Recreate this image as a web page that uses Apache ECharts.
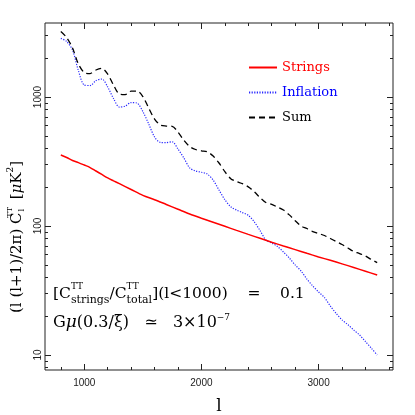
<!DOCTYPE html>
<html>
<head>
<meta charset="utf-8">
<script src="https://cdn.jsdelivr.net/npm/echarts@6/dist/echarts.min.js"></script>
<style>
  html, body { margin: 0; padding: 0; background: #fff; }
  #chart { width: 415px; height: 415px; }
</style>
</head>
<body>
<div id="chart"></div>
<script>
// multipole l, sampled every 50 for the oscillating curves
const ellFine = [800, 850, 900, 950, 1000, 1050, 1100, 1150, 1200, 1250, 1300, 1350, 1400, 1450,
  1500, 1550, 1600, 1650, 1700, 1750, 1800, 1850, 1900, 1950, 2000, 2050, 2100, 2150, 2200, 2250,
  2300, 2350, 2400, 2450, 2500, 2550, 2600, 2650, 2700, 2750, 2800, 2850, 2900, 2950, 3000, 3050,
  3100, 3150, 3200, 3250, 3300, 3350, 3400, 3450, 3500];
// inflation C_l (muK^2)
const inflation = [2851, 2693, 2314, 1604, 1239, 1228, 1342, 1379, 1196, 973, 836, 851, 906, 898,
  772, 618, 490, 445, 443, 450, 395, 337, 282, 267, 261, 253, 227, 190, 160, 141,
  133, 127, 121, 108, 92.3, 77.9, 73.8, 69.3, 62.9, 56.5, 49.9, 44.8, 38.8, 34.3, 30.8, 27.9,
  24.0, 21.0, 18.7, 17.2, 15.6, 14.3, 12.7, 11.3, 10];
// sum of strings + inflation
const sum = [3220, 2893, 2399, 1803, 1549, 1521, 1620, 1669, 1507, 1239, 1055, 1045, 1113, 1113,
  1009, 822, 675, 607, 596, 593, 535, 462, 413, 392, 383, 376, 349, 308, 264, 233,
  221, 213, 201, 185, 166, 152, 147, 140, 133, 122, 110, 100, 95.6, 90.6, 87.5, 84.4,
  80, 75.8, 71.9, 67.5, 63.4, 61.2, 58.5, 55, 52];
// strings, smooth curve
const ellStrings = [800, 850, 900, 950, 1000, 1050, 1100, 1150, 1200, 1250, 1300, 1400, 1500, 1600,
  1700, 1800, 1900, 2000, 2100, 2200, 2300, 2400, 2500, 2600, 2700, 2800, 2900, 3000, 3100,
  3200, 3300, 3400, 3500];
const strings = [355, 340, 322, 310, 297, 284, 267, 251, 236, 224, 213, 192, 173, 160,
  147, 135, 124, 115, 107, 99.5, 92.5, 86.1, 80.3, 74.9, 70, 65.6, 61.4, 57.6, 54.2,
  50.9, 47.7, 44.6, 41.7];

// ticks
const xMajor = [1000, 2000, 3000];
const xMinor = [800, 1200, 1400, 1600, 1800, 2200, 2400, 2600, 2800, 3200, 3400, 3600];
const yMajor = [10, 100, 1000];
const yMinor = [8, 9, 20, 30, 40, 50, 60, 70, 80, 90, 200, 300, 400, 500, 600, 700, 800, 900, 2000, 3000];

const pairs = (xs, ys) => xs.map((x, i) => [x, ys[i]]);

const chart = echarts.init(document.getElementById("chart"));

const X_MIN = 665, X_MAX = 3635;
const Y_MIN = 7.65, Y_MAX = 3750;
const serif = "DejaVu Serif";
const plain = (v) => String(Math.round(v));

function xAx(pos, vals, len, labels) {
  return {
    type: "value", min: X_MIN, max: X_MAX, position: pos,
    axisLine: { show: false },
    axisTick: { show: true, inside: true, length: len, customValues: vals,
      lineStyle: { color: "#222", width: 1 } },
    axisLabel: labels
      ? { show: true, customValues: xMajor, margin: 8, fontSize: 10, formatter: plain,
          fontFamily: "Liberation Sans", color: "#222" }
      : { show: false },
    splitLine: { show: false },
  };
}
function yAx(pos, vals, len, labels) {
  return {
    type: "log", logBase: 10, min: Y_MIN, max: Y_MAX, position: pos,
    axisLine: { show: false },
    axisTick: { show: true, inside: true, length: len, customValues: vals,
      lineStyle: { color: "#222", width: 1 } },
    axisLabel: labels
      ? { show: true, customValues: yMajor, rotate: 90, margin: 2, fontSize: 10, formatter: plain,
          fontFamily: "Liberation Sans", color: "#222" }
      : { show: false },
    splitLine: { show: false },
  };
}

const xAxes = [xAx("bottom", xMajor, 6, true), xAx("bottom", xMinor, 3), xAx("top", xMajor, 6), xAx("top", xMinor, 3)];
xAxes[0].name = "l";
xAxes[0].nameLocation = "middle";
xAxes[0].nameGap = 28;
xAxes[0].nameTextStyle = { fontFamily: serif, fontSize: 17, color: "#000" };

const yAxes = [yAx("left", yMajor, 6, true), yAx("left", yMinor, 3), yAx("right", yMajor, 6), yAx("right", yMinor, 3)];

chart.setOption({
  animation: false,
  backgroundColor: "#fff",
  grid: { left: 45, right: 22, top: 23, bottom: 45, outerBoundsMode: "none", containLabel: false,
    show: true, borderColor: "#222", borderWidth: 1 },
  xAxis: xAxes,
  yAxis: yAxes,
  legend: {
    orient: "vertical", left: 243, top: 56, itemWidth: 28, itemHeight: 14, itemGap: 12,
    itemStyle: { opacity: 0 },
    textStyle: { fontFamily: serif, fontSize: 13 },
    data: [
      { name: "Strings", textStyle: { color: "#ff0000" } },
      { name: "Inflation", textStyle: { color: "#0000ff" } },
      { name: "Sum", textStyle: { color: "#000" } },
    ],
  },
  series: [
    {
      name: "Inflation", type: "line", smooth: 0.3, symbol: "none",
      data: pairs(ellFine, inflation),
      lineStyle: { color: "#2a2aff", width: 1.2, type: [1.2, 1.4] },
      itemStyle: { color: "#2a2aff" },
    },
    {
      name: "Sum", type: "line", smooth: 0.3, symbol: "none",
      data: pairs(ellFine, sum),
      lineStyle: { color: "#000", width: 1.3, type: [6, 4] },
      itemStyle: { color: "#000" },
    },
    {
      name: "Strings", type: "line", smooth: 0.3, symbol: "none",
      data: pairs(ellStrings, strings),
      lineStyle: { color: "#ff0000", width: 1.5 },
      itemStyle: { color: "#ff0000" },
    },
  ],
  graphic: [
    {
      type: "text", rotation: Math.PI / 2, x: 17, y: 237,
      style: {
        text: "(l (l+1)/2π) C{sp|TT}{sb|l}  [{mu|μ}K{s2|2}]",
        fontFamily: serif, fontSize: 15, fill: "#000",
        align: "center", verticalAlign: "middle",
        rich: {
          sp: { fontFamily: serif, fontSize: 8, verticalAlign: "top", lineHeight: 22, width: 0 },
          sb: { fontFamily: serif, fontSize: 8, verticalAlign: "bottom", lineHeight: 22, padding: [0, 0, 2, 1] },
          mu: { fontFamily: serif, fontSize: 15, fontStyle: "italic" },
          s2: { fontFamily: serif, fontSize: 9, verticalAlign: "top", lineHeight: 22 },
        },
      },
    },
    {
      type: "text", x: 53, y: 294,
      style: {
        text: "[C{sp|TT}{sb|strings}/C{sp|TT}{sb|total}](l<1000)    =    0.1",
        fontFamily: serif, fontSize: 15.5, fill: "#000", verticalAlign: "middle",
        rich: {
          sp: { fontFamily: serif, fontSize: 9, verticalAlign: "top", lineHeight: 24, width: 0 },
          sb: { fontFamily: serif, fontSize: 11, verticalAlign: "bottom", lineHeight: 24 },
        },
      },
    },
    {
      type: "text", x: 53, y: 323,
      style: {
        text: "G{mu|μ}(0.3/ξ̄)   ≃   3×10{s|−7}",
        fontFamily: serif, fontSize: 16, fill: "#000", verticalAlign: "middle",
        rich: {
          mu: { fontFamily: serif, fontSize: 17, fontStyle: "italic" },
          s: { fontFamily: serif, fontSize: 9, verticalAlign: "top", lineHeight: 20 },
        },
      },
    },
  ],
});
</script>
</body>
</html>
